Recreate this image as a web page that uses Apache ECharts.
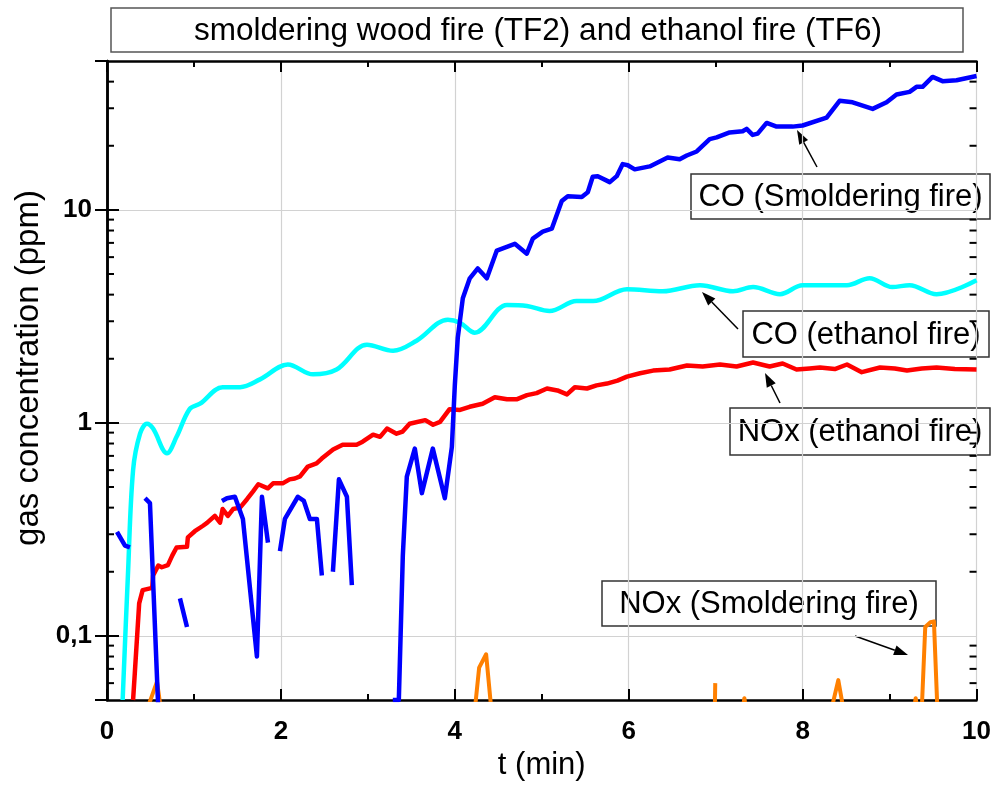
<!DOCTYPE html>
<html>
<head>
<meta charset="utf-8">
<script src="https://cdn.jsdelivr.net/npm/echarts@6/dist/echarts.min.js"></script>
<style>
  html, body { margin: 0; padding: 0; background: #fff; }
  #chart { width: 994px; height: 786px; }
</style>
</head>
<body>
<div id="chart"></div>
<script>
// t (min), concentration (ppm); null = gap in the recorded curve
const coEthanol = [
  [0.18, 0.05], [0.24, 0.19], [0.30, 0.60], [0.38, 0.89], [0.46, 0.99], [0.53, 0.94],
  [0.69, 0.72], [0.80, 0.86], [0.95, 1.16], [1.07, 1.23], [1.33, 1.47], [1.53, 1.47],
  [1.76, 1.60], [2.08, 1.88], [2.37, 1.69], [2.64, 1.78], [2.99, 2.33], [3.29, 2.18],
  [3.56, 2.43], [3.92, 3.05], [4.06, 2.95], [4.23, 2.65], [4.60, 3.58], [4.83, 3.54],
  [5.09, 3.35], [5.40, 3.73], [5.59, 3.73], [5.98, 4.24], [6.39, 4.15], [6.82, 4.43],
  [7.20, 4.15], [7.43, 4.34], [7.74, 4.02], [8.00, 4.43], [8.51, 4.43], [8.77, 4.78],
  [9.03, 4.34], [9.23, 4.43], [9.54, 4.02], [10.0, 4.67]
]

const noxEthanol = [
  [0.30, 0.05], [0.32, 0.067], [0.37, 0.142], [0.41, 0.164], [0.52, 0.168], [0.53, 0.192],
  [0.59, 0.214], [0.63, 0.21], [0.70, 0.215], [0.75, 0.238], [0.80, 0.26], [0.92, 0.262],
  [0.93, 0.29], [1.01, 0.31], [1.10, 0.328], [1.15, 0.339], [1.24, 0.366], [1.30, 0.34],
  [1.33, 0.394], [1.39, 0.366], [1.45, 0.394], [1.53, 0.40], [1.61, 0.438], [1.68, 0.477],
  [1.74, 0.515], [1.85, 0.493], [1.91, 0.52], [2.02, 0.52], [2.10, 0.543], [2.16, 0.548],
  [2.22, 0.561], [2.31, 0.624], [2.41, 0.645], [2.47, 0.68], [2.60, 0.75], [2.71, 0.79],
  [2.87, 0.79], [2.94, 0.816], [3.06, 0.88], [3.14, 0.86], [3.22, 0.94], [3.33, 0.89],
  [3.40, 0.91], [3.48, 0.99], [3.66, 1.03], [3.75, 0.98], [3.83, 1.01], [3.94, 1.16],
  [4.06, 1.15], [4.17, 1.19], [4.32, 1.23], [4.46, 1.32], [4.60, 1.29], [4.71, 1.29],
  [4.83, 1.35], [4.94, 1.38], [5.06, 1.45], [5.18, 1.42], [5.29, 1.36], [5.38, 1.47],
  [5.52, 1.45], [5.63, 1.50], [5.75, 1.53], [5.87, 1.58], [5.98, 1.65], [6.13, 1.71],
  [6.28, 1.76], [6.47, 1.78], [6.67, 1.86], [6.85, 1.84], [7.05, 1.88], [7.24, 1.84],
  [7.43, 1.92], [7.62, 1.84], [7.77, 1.90], [7.93, 1.78], [8.08, 1.80], [8.20, 1.82],
  [8.37, 1.79], [8.51, 1.88], [8.68, 1.73], [8.89, 1.82], [9.06, 1.80], [9.20, 1.76],
  [9.37, 1.80], [9.54, 1.82], [9.75, 1.79], [10.0, 1.78]
]

const coSmolder = [
  [0.115, 0.308], [0.207, 0.265], [0.264, 0.26], null,
  [0.437, 0.443], [0.494, 0.42], [0.59, 0.045], null,
  [0.839, 0.15], [0.92, 0.11], null,
  [1.322, 0.43], [1.379, 0.443], [1.471, 0.45], [1.563, 0.354], [1.724, 0.080],
  [1.782, 0.45], [1.851, 0.274], null,
  [1.989, 0.25], [2.046, 0.354], [2.195, 0.45], [2.264, 0.43], [2.333, 0.354],
  [2.414, 0.354], [2.471, 0.192], null,
  [2.598, 0.20], [2.667, 0.543], [2.759, 0.45], [2.816, 0.173], null,
  [3.287, 0.05], [3.356, 0.05], [3.402, 0.238], [3.448, 0.56], [3.540, 0.757],
  [3.621, 0.468], [3.747, 0.757], [3.885, 0.443], [3.966, 0.77], [4.0, 1.5],
  [4.034, 2.51], [4.092, 3.85], [4.172, 4.77], [4.264, 5.31], [4.368, 4.77],
  [4.483, 6.44], [4.598, 6.71], [4.690, 6.93], [4.828, 6.23], [4.897, 7.33],
  [5.011, 7.90], [5.115, 8.16], [5.230, 11.0], [5.299, 11.6], [5.460, 11.5],
  [5.529, 12.1], [5.586, 14.3], [5.644, 14.4], [5.782, 13.5], [5.862, 14.4],
  [5.931, 16.4], [5.989, 16.2], [6.069, 15.5], [6.241, 16.0], [6.448, 17.6],
  [6.586, 17.3], [6.667, 18.0], [6.782, 18.8], [6.931, 21.5], [7.011, 21.9],
  [7.161, 23.1], [7.310, 23.4], [7.356, 24.0], [7.425, 22.5], [7.483, 22.8],
  [7.586, 25.6], [7.701, 24.6], [7.885, 24.6], [8.0, 24.9], [8.276, 27.1],
  [8.425, 32.5], [8.575, 32.0], [8.805, 29.8], [8.966, 32.0], [9.080, 34.8],
  [9.230, 35.8], [9.310, 37.8], [9.379, 37.8], [9.494, 42.1], [9.609, 40.2],
  [9.770, 40.6], [10.0, 42.5]
]

const noxSmolder = [
  [0.46, 0.045], [0.575, 0.061], [0.62, 0.045], null,
  [4.23, 0.045], [4.28, 0.071], [4.36, 0.082], [4.42, 0.045], null,
  [6.99, 0.045], [6.995, 0.06], null,
  [7.31, 0.045], [7.33, 0.051], [7.35, 0.045], null,
  [8.33, 0.045], [8.41, 0.062], [8.47, 0.045], null,
  [9.28, 0.045], [9.30, 0.051], [9.32, 0.045], null,
  [9.37, 0.045], [9.41, 0.11], [9.47, 0.116], [9.51, 0.117], [9.55, 0.045]
]

// log minor ticks (2..9 per decade) inside the 0.05-50 range
const minorTickValues = [
  0.06, 0.07, 0.08, 0.09,
  0.2, 0.3, 0.4, 0.5, 0.6, 0.7, 0.8, 0.9,
  2, 3, 4, 5, 6, 7, 8, 9,
  20, 30, 40
]

const FONT = '"Liberation Sans", Arial, sans-serif'
const chart = echarts.init(document.getElementById('chart'))

const gaps = pts => pts.map(p => p === null ? ['-', '-'] : p)

function arrow(x1, y1, x2, y2) {
  const len = Math.hypot(x2 - x1, y2 - y1)
  const dx = (x2 - x1) / len, dy = (y2 - y1) / len
  const L = 14, W = 5
  const bx = x2 - L * dx, by = y2 - L * dy
  return {
    type: 'group',
    children: [
      { type: 'line', shape: { x1: x1, y1: y1, x2: bx, y2: by }, style: { stroke: '#000', lineWidth: 1.5 } },
      { type: 'polygon', shape: { points: [[x2, y2], [bx - W * dy, by + W * dx], [bx + W * dy, by - W * dx]] },
        style: { fill: '#000' } }
    ]
  }
}

function note(x, y, w, h, text) {
  return {
    type: 'group',
    children: [
      { type: 'rect', shape: { x: x, y: y, width: w, height: h }, style: { fill: '#fff', stroke: '#333', lineWidth: 1.5 } },
      { type: 'text', x: x + w / 2, y: y + h / 2 + 1,
        style: { text: text, font: '31px ' + FONT, fill: '#000', textAlign: 'center', textVerticalAlign: 'middle' } }
    ]
  }
}

const axisBlack = { show: true, lineStyle: { color: '#000', width: 2.5 } }
const tickStyle = { color: '#000', width: 2 }

const yLog = {
  type: 'log',
  logBase: 10,
  min: 0.05,
  max: 50
}

const option = {
  animation: false,
  backgroundColor: '#fff',
  grid: { left: 107, right: 17, top: 61, bottom: 81, containLabel: false },
  xAxis: [{
    type: 'value', min: 0, max: 10, interval: 2, position: 'bottom',
    axisLine: Object.assign({ onZero: false }, axisBlack),
    axisTick: { show: true, inside: true, length: 11, lineStyle: tickStyle },
    minorTick: { show: true, splitNumber: 2, length: 6, lineStyle: tickStyle },
    splitLine: { show: true, lineStyle: { color: '#d2d2d2', width: 1.2 } },
    axisLabel: { margin: 19, color: '#000', fontFamily: FONT, fontWeight: 'bold', fontSize: 26 },
    name: 't (min)', nameLocation: 'middle', nameGap: 50,
    nameTextStyle: { color: '#000', fontFamily: FONT, fontSize: 31 }
  }, {
    type: 'value', min: 0, max: 10, interval: 2, position: 'top',
    axisLine: Object.assign({ onZero: false }, axisBlack),
    axisTick: { show: true, inside: true, length: 11, lineStyle: tickStyle },
    minorTick: { show: true, splitNumber: 2, length: 6, lineStyle: tickStyle },
    splitLine: { show: false },
    axisLabel: { show: false }
  }],
  yAxis: [Object.assign({}, yLog, {
    position: 'left',
    axisLine: axisBlack,
    axisTick: { show: true, inside: true, length: 12, lineStyle: tickStyle },
    splitLine: { show: true, lineStyle: { color: '#d2d2d2', width: 1.2 } },
    axisLabel: {
      margin: 15, color: '#000', fontFamily: FONT, fontWeight: 'bold', fontSize: 26,
      showMinLabel: false, showMaxLabel: false,
      formatter: v => {
        const l = Math.log10(v)
        if (Math.abs(l - Math.round(l)) > 1e-6) return ''
        return String(+v.toPrecision(3)).replace('.', ',')
      }
    }
  }), Object.assign({}, yLog, {
    position: 'right',
    axisLine: axisBlack,
    axisTick: { show: true, inside: true, length: 12, lineStyle: tickStyle },
    splitLine: { show: false },
    axisLabel: { show: false }
  })],
  graphic: [
    { type: 'rect', shape: { x: 111, y: 8, width: 852, height: 44 }, style: { fill: '#fff', stroke: '#555', lineWidth: 1.5 } },
    { type: 'text', x: 538, y: 31,
      style: { text: 'smoldering wood fire (TF2) and ethanol fire (TF6)', font: '31.5px ' + FONT, fill: '#000',
        textAlign: 'center', textVerticalAlign: 'middle' } },
    { type: 'text', x: 29, y: 368, rotation: Math.PI / 2,
      style: { text: 'gas concentration (ppm)', font: '33px ' + FONT, fill: '#000',
        textAlign: 'center', textVerticalAlign: 'middle' } },
    arrow(817, 167, 797, 130),
    note(691, 174, 299, 45, 'CO (Smoldering fire)'),
    arrow(738, 329, 702, 292),
    note(743, 311, 246, 46, 'CO (ethanol fire)'),
    arrow(780, 403, 765, 373),
    note(730, 408, 260, 47, 'NOx (ethanol fire)'),
    arrow(855, 636, 908, 655),
    note(602, 581, 334, 45, 'NOx (Smoldering fire)')
  ],
  series: [
    {
      type: 'custom', name: 'minor ticks', silent: true, clip: false, z: 5,
      data: minorTickValues.map(v => [0, v]),
      encode: { x: 0, y: 1 },
      renderItem: (params, api) => {
        const p = api.coord([0, api.value(1)])
        const cs = params.coordSys
        return {
          type: 'group',
          children: [
            { type: 'line', shape: { x1: cs.x, y1: p[1], x2: cs.x + 7, y2: p[1] }, style: { stroke: '#000', lineWidth: 2 } },
            { type: 'line', shape: { x1: cs.x + cs.width, y1: p[1], x2: cs.x + cs.width - 7, y2: p[1] }, style: { stroke: '#000', lineWidth: 2 } }
          ]
        }
      }
    },
    {
      name: 'NOx (Smoldering fire)', type: 'line', data: gaps(noxSmolder), showSymbol: false,
      connectNulls: false, lineStyle: { color: '#ff8000', width: 4, join: 'round' }, itemStyle: { color: '#ff8000' }
    },
    {
      name: 'NOx (ethanol fire)', type: 'line', data: noxEthanol, showSymbol: false,
      lineStyle: { color: '#ff0000', width: 4.5, join: 'round' }, itemStyle: { color: '#ff0000' }
    },
    {
      name: 'CO (ethanol fire)', type: 'line', data: coEthanol, showSymbol: false, smooth: 0.35,
      lineStyle: { color: '#00ffff', width: 4.5 }, itemStyle: { color: '#00ffff' }
    },
    {
      name: 'CO (Smoldering fire)', type: 'line', data: gaps(coSmolder), showSymbol: false,
      connectNulls: false, lineStyle: { color: '#0000ff', width: 4.5, join: 'round' }, itemStyle: { color: '#0000ff' }
    }
  ]
}

chart.setOption(option)
</script>
</body>
</html>
